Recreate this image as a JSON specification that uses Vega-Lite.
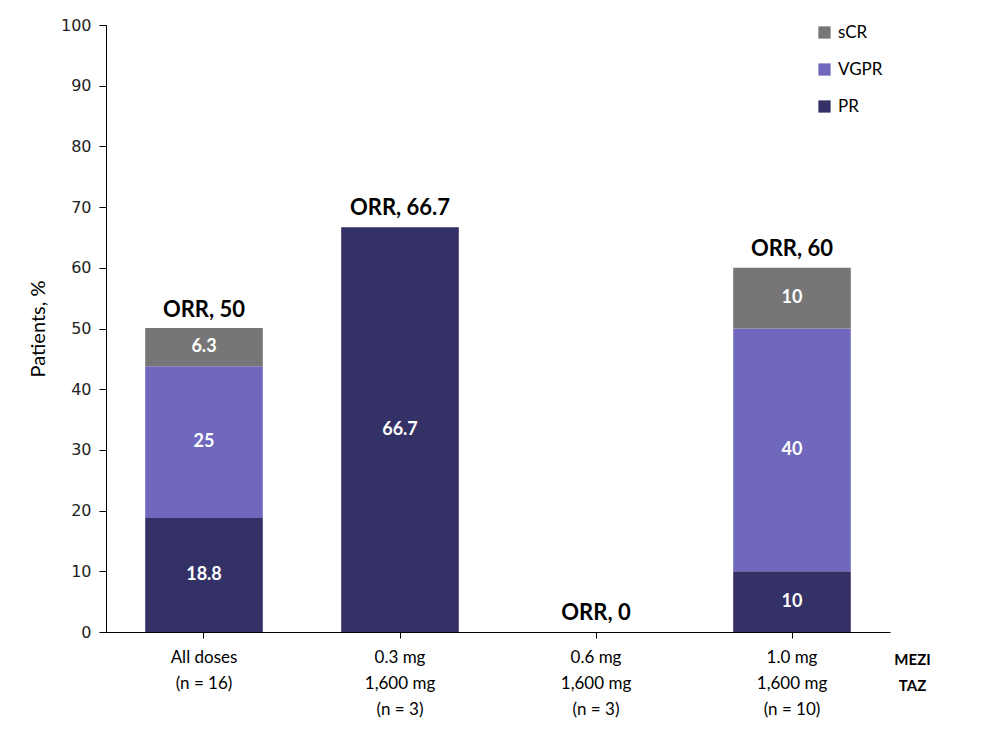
{
  "$schema": "https://vega.github.io/schema/vega-lite/v6.json",
  "autosize": "none",
  "width": 784,
  "height": 607,
  "padding": {"left": 106, "top": 25, "right": 110, "bottom": 103},
  "background": "white",
  "config": {
    "view": {"stroke": null},
    "font": "Lato",
    "axis": {"grid": false, "domainColor": "#000", "tickColor": "#000", "labelColor": "#000", "titleColor": "#000"}
  },
  "datasets": {
    "resp": [
      {"group": "All doses|(n = 16)", "response": "PR", "value": 18.8},
      {"group": "All doses|(n = 16)", "response": "VGPR", "value": 25},
      {"group": "All doses|(n = 16)", "response": "sCR", "value": 6.3},
      {"group": "0.3 mg|1,600 mg|(n = 3)", "response": "PR", "value": 66.7},
      {"group": "1.0 mg|1,600 mg|(n = 10)", "response": "PR", "value": 10},
      {"group": "1.0 mg|1,600 mg|(n = 10)", "response": "VGPR", "value": 40},
      {"group": "1.0 mg|1,600 mg|(n = 10)", "response": "sCR", "value": 10}
    ],
    "orr": [
      {"group": "All doses|(n = 16)", "orr": 50, "label": "ORR, 50"},
      {"group": "0.3 mg|1,600 mg|(n = 3)", "orr": 66.7, "label": "ORR, 66.7"},
      {"group": "0.6 mg|1,600 mg|(n = 3)", "orr": 0, "label": "ORR, 0"},
      {"group": "1.0 mg|1,600 mg|(n = 10)", "orr": 60, "label": "ORR, 60"}
    ]
  },
  "layer": [
    {
      "data": {"name": "resp"},
      "transform": [
        {"stack": "value", "groupby": ["group"], "sort": [{"field": "response", "order": "ascending"}], "as": ["y0", "y1"]},
        {"calculate": "(datum.y0 + datum.y1) / 2", "as": "ymid"}
      ],
      "layer": [
        {
          "mark": {"type": "bar"},
          "encoding": {
            "x": {"field": "group", "type": "nominal"},
            "y": {"field": "y0", "type": "quantitative"},
            "y2": {"field": "y1"},
            "color": {
              "field": "response", "type": "nominal",
              "scale": {"domain": ["sCR", "VGPR", "PR"], "range": ["#767676", "#6f68bd", "#343166"]},
              "legend": {
                "title": null, "orient": "none", "legendX": 710, "legendY": -1,
                "symbolType": "square", "symbolSize": 150, "symbolStrokeWidth": 0,
                "labelFontSize": 17, "labelFont": "Lato", "labelColor": "#000",
                "rowPadding": 19, "labelOffset": 5
              }
            }
          }
        },
        {
          "mark": {"type": "text", "color": "white", "fontWeight": "bold", "fontSize": 18, "font": "Lato", "baseline": "middle"},
          "encoding": {
            "x": {"field": "group", "type": "nominal"},
            "y": {"field": "ymid", "type": "quantitative"},
            "text": {"field": "value", "type": "quantitative"}
          }
        }
      ]
    },
    {
      "data": {"name": "orr"},
      "mark": {"type": "text", "color": "black", "fontWeight": "bold", "fontSize": 22, "font": "Lato", "baseline": "bottom", "dy": -7},
      "encoding": {
        "x": {"field": "group", "type": "nominal"},
        "y": {"field": "orr", "type": "quantitative"},
        "text": {"field": "label"}
      }
    }
  ],
  "encoding": {
    "x": {
      "field": "group", "type": "nominal",
      "sort": ["All doses|(n = 16)", "0.3 mg|1,600 mg|(n = 3)", "0.6 mg|1,600 mg|(n = 3)", "1.0 mg|1,600 mg|(n = 10)"],
      "scale": {"paddingInner": 0.4, "paddingOuter": 0.2},
      "axis": {
        "labelExpr": "split(datum.value, '|')",
        "labelAngle": 0, "labelFontSize": 17, "labelLineHeight": 26, "labelPadding": 11,
        "tickSize": 6, "labelFont": "Lato",
        "title": ["MEZI", "TAZ"], "titleFontWeight": "bold", "titleFontSize": 15, "titleFont": "Lato",
        "titleLineHeight": 26, "titleAnchor": "start", "titleAlign": "center", "titleBaseline": "top", "titleX": 806, "titleY": 20
      }
    },
    "y": {
      "type": "quantitative",
      "scale": {"domain": [0, 100]},
      "axis": {
        "values": [0, 10, 20, 30, 40, 50, 60, 70, 80, 90, 100],
        "title": "Patients, %", "titleFontSize": 20, "titleFontWeight": "normal", "titleFont": "Lato", "titlePadding": 12,
        "labelFont": "DejaVu Sans", "labelFontSize": 16, "labelColor": "#222", "tickSize": 7, "labelPadding": 8
      }
    }
  }
}
